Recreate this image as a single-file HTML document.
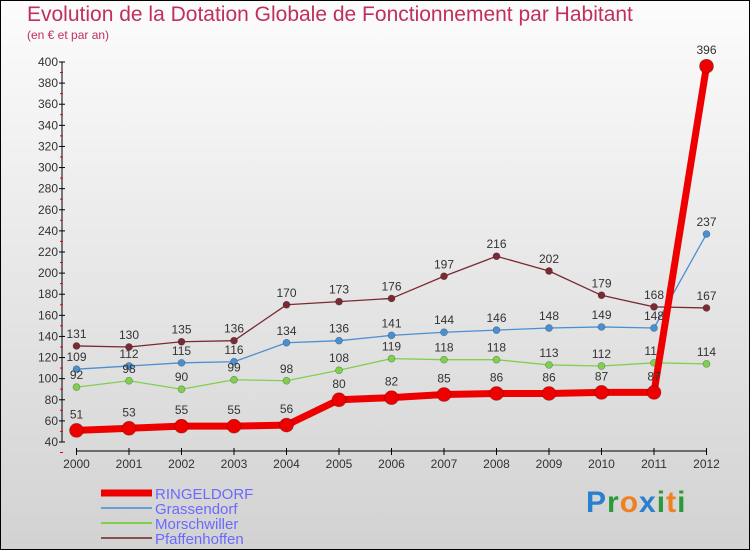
<!DOCTYPE html>
<html><head><meta charset="utf-8"><style>
body{margin:0;width:750px;height:550px;overflow:hidden;font-family:"Liberation Sans",sans-serif}
#wrap{position:relative;width:748px;height:548px;border:1px solid #000;background:linear-gradient(#fcfcfc,#d2d2d2)}
.t{position:absolute;white-space:nowrap}
</style></head><body>
<div id="wrap">
<div class="t" style="left:26px;top:2px;font-size:21px;color:#c0305a">Evolution de la Dotation Globale de Fonctionnement par Habitant</div>
<div class="t" style="left:26px;top:27px;font-size:12px;color:#c0305a">(en € et par an)</div>
<svg id="c" width="750" height="550" style="position:absolute;left:0;top:0"></svg>
<div class="t" style="left:585px;top:485px;font-size:30px;font-weight:bold;letter-spacing:1px"><span style="color:#2a7fd0">P</span><span style="color:#2a9a3a">r</span><span style="color:#f08020">o</span><span style="color:#2a7fd0">x</span><span style="color:#2a9a3a">i</span><span style="color:#f08020">t</span><span style="color:#2a9a3a">i</span></div>
</div>
<script>
const years=[2000,2001,2002,2003,2004,2005,2006,2007,2008,2009,2010,2011,2012];
const ringeldorf=[51,53,55,55,56,80,82,85,86,86,87,87,396];
const grassendorf=[109,112,115,116,134,136,141,144,146,148,149,148,237];
const morschwiller=[92,98,90,99,98,108,119,118,118,113,112,115,114];
const pfaffenhoffen=[131,130,135,136,170,173,176,197,216,202,179,168,167];
const yTicks=[40,60,80,100,120,140,160,180,200,220,240,260,280,300,320,340,360,380,400];
const NS="http://www.w3.org/2000/svg";
const svg=document.getElementById('c');
const x=i=>75.5+i*(705.5-75.5)/(years.length-1);
const y=v=>441-(v-40)*(441-61)/360;
function el(t,a,p){const e=document.createElementNS(NS,t);for(const k in a)e.setAttribute(k,a[k]);(p||svg).appendChild(e);return e;}
let g=el('g',{});
el('line',{x1:61,y1:61,x2:61,y2:441,stroke:'#000'},g);
yTicks.forEach(v=>{el('line',{x1:58,x2:64,y1:y(v),y2:y(v),stroke:'#000'},g);
 el('line',{x1:59,x2:62,y1:y(v)+10.5,y2:y(v)+10.5,stroke:'#e00'},g);
 const t=el('text',{x:57,y:y(v)+4,'text-anchor':'end','font-size':12,fill:'#333'},g);t.textContent=v;
 });
let gx=el('g',{});
el('line',{x1:75,x2:706,y1:450,y2:450,stroke:'#000'},gx);
years.forEach((yr,i)=>{el('line',{x1:x(i),x2:x(i),y1:447,y2:454,stroke:'#000'},gx);
 const t=el('text',{x:x(i),y:467,'text-anchor':'middle','font-size':12,fill:'#333'},gx);t.textContent=yr;
 });
function series(d,col,w,r,name){
 const gg=el('g',{});
 el('polyline',{points:d.map((v,i)=>x(i)+','+y(v)).join(' '),fill:'none',stroke:col,'stroke-width':w,'stroke-linejoin':'round'},gg);
 d.forEach((v,i)=>{const c=el('circle',{cx:x(i),cy:y(v),r:r,fill:col,stroke:'rgba(0,0,0,0.3)','stroke-width':0.7},gg);
  
  const t=el('text',{x:x(i),y:y(v)-8-(r>4?4:0),'text-anchor':'middle','font-size':12,fill:'#333'},gg);t.textContent=v;
  });
}
series(pfaffenhoffen,'#7a2a32',1.3,3.5,'pfaffenhoffen');
series(grassendorf,'#4a90d0',1.3,3.5,'grassendorf');
series(morschwiller,'#80d050',1.3,3.5,'morschwiller');
series(ringeldorf,'#ee0000',7,7,'ringeldorf');
const legend=[['RINGELDORF','#ee0000',7],['Grassendorf','#6aa0d0',2],['Morschwiller','#80d050',2],['Pfaffenhoffen','#8a5050',2]];
legend.forEach((l,i)=>{const gg=el('g',{});
 const yy=492+i*15;el('line',{x1:100,x2:151,y1:yy,y2:yy,stroke:l[1],'stroke-width':l[2]},gg);
 const t=el('text',{x:154,y:yy+6,'font-size':15,fill:'#6a6aff'},gg);t.textContent=l[0];});
</script>
</body></html>
